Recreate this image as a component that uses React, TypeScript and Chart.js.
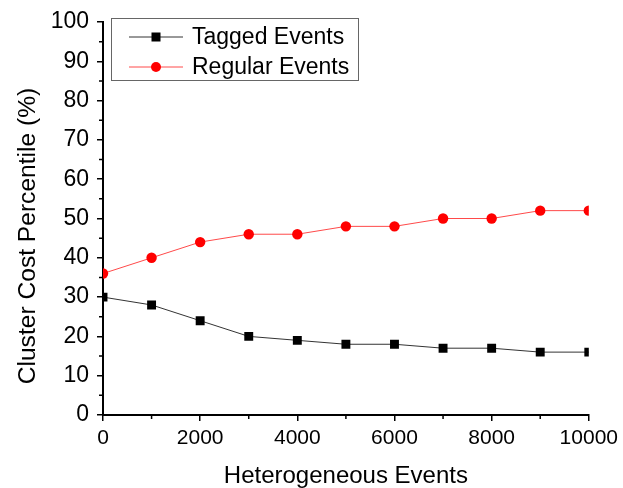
import React, { useEffect, useRef } from 'react';
import { Chart, registerables } from 'chart.js';

Chart.register(...registerables);

const xValues = [0, 1000, 2000, 3000, 4000, 5000, 6000, 7000, 8000, 9000, 10000];
const taggedEvents = [30, 28, 24, 20, 19, 18, 18, 17, 17, 16, 16];
const regularEvents = [36, 40, 44, 46, 46, 48, 48, 50, 50, 52, 52];
const xMinorTicks = [1000, 3000, 5000, 7000, 9000];
const yMinorTicks = [5, 15, 25, 35, 45, 55, 65, 75, 85, 95];
const seriesLabels = ['Tagged Events', 'Regular Events'];
const xTitle = 'Heterogeneous Events';
const yTitle = 'Cluster Cost Percentile (%)';

const FONT = "'Liberation Sans', Arial, sans-serif";

const minorTickPlugin = {
  id: 'minorTicks',
  afterDraw(chart: any) {
    const ctx = chart.ctx;
    const xs = chart.scales.x;
    const ys = chart.scales.y;
    ctx.save();
    ctx.strokeStyle = '#000';
    ctx.lineWidth = 1.5;
    ctx.beginPath();
    xMinorTicks.forEach((v) => {
      const px = xs.getPixelForValue(v);
      ctx.moveTo(px, ys.bottom);
      ctx.lineTo(px, ys.bottom + 4);
    });
    yMinorTicks.forEach((v) => {
      const py = ys.getPixelForValue(v);
      ctx.moveTo(xs.left, py);
      ctx.lineTo(xs.left - 4, py);
    });
    ctx.stroke();
    // y axis title
    ctx.fillStyle = '#000';
    ctx.font = `24.6px ${FONT}`;
    ctx.textAlign = 'center';
    ctx.textBaseline = 'alphabetic';
    ctx.translate(35, 236);
    ctx.rotate(-Math.PI / 2);
    ctx.fillText(yTitle, 0, 0);
    ctx.restore();
  },
};

const legendPlugin = {
  id: 'insideLegend',
  afterDraw(chart: any) {
    const ctx = chart.ctx;
    const area = chart.chartArea;
    const left = area.left + 8;
    const top = area.top - 4;
    const w = 247;
    const h = 62;
    ctx.save();
    ctx.fillStyle = '#fff';
    ctx.fillRect(left, top, w, h);
    ctx.strokeStyle = '#666';
    ctx.lineWidth = 1;
    ctx.strokeRect(left + 0.5, top + 0.5, w, h);
    chart.data.datasets.forEach((ds: any, i: number) => {
      const cy = top + 19 + i * 30;
      ctx.strokeStyle = ds.borderColor;
      ctx.lineWidth = 1;
      ctx.beginPath();
      ctx.moveTo(left + 18, cy);
      ctx.lineTo(left + 72, cy);
      ctx.stroke();
      ctx.fillStyle = ds.pointBackgroundColor;
      const mx = left + 45;
      if (ds.pointStyle === 'rect') {
        ctx.fillRect(mx - 4.5, cy - 4.5, 9, 9);
      } else {
        ctx.beginPath();
        ctx.arc(mx, cy, 5, 0, Math.PI * 2);
        ctx.fill();
      }
      ctx.fillStyle = '#000';
      ctx.font = `23px ${FONT}`;
      ctx.textBaseline = 'middle';
      ctx.textAlign = 'left';
      ctx.fillText(ds.label, left + 81, cy + 1);
    });
    ctx.restore();
  },
};

export default function App() {
  const ref = useRef<HTMLCanvasElement | null>(null);

  useEffect(() => {
    document.body.style.margin = '0';
    const canvas = ref.current;
    if (!canvas) return;
    const chart = new Chart(canvas, {
      type: 'line',
      data: {
        datasets: [
          {
            label: seriesLabels[0],
            data: xValues.map((x, i) => ({ x, y: taggedEvents[i] })),
            borderColor: '#333333',
            borderWidth: 1,
            backgroundColor: '#000',
            pointBackgroundColor: '#000',
            pointBorderColor: '#000',
            pointBorderWidth: 0,
            pointStyle: 'rect',
            pointRadius: 6.3,
            clip: 0,
            tension: 0,
          },
          {
            label: seriesLabels[1],
            data: xValues.map((x, i) => ({ x, y: regularEvents[i] })),
            borderColor: '#ff4a4a',
            borderWidth: 1,
            backgroundColor: '#ff0000',
            pointBackgroundColor: '#ff0000',
            pointBorderColor: '#ff0000',
            pointBorderWidth: 0,
            pointStyle: 'circle',
            pointRadius: 5.2,
            clip: 0,
            tension: 0,
          },
        ],
      },
      options: {
        animation: false,
        responsive: false,
        devicePixelRatio: 1,
        layout: { padding: { top: 22, right: 31, left: 0, bottom: 0 } },
        plugins: {
          legend: { display: false },
          tooltip: { enabled: false },
        },
        scales: {
          x: {
            type: 'linear',
            min: 0,
            max: 10000,
            ticks: {
              stepSize: 2000,
              color: '#000',
              font: { family: FONT, size: 21 },
              padding: 5,
              maxRotation: 0,
              callback: (v: any) => String(v),
            },
            grid: {
              display: true,
              drawOnChartArea: false,
              drawTicks: true,
              tickLength: 6,
              color: '#000',
              lineWidth: 1.5,
            },
            border: { display: true, color: '#000', width: 2 },
            title: {
              display: true,
              text: xTitle,
              color: '#000',
              font: { family: FONT, size: 24, lineHeight: 1.0 },
              padding: { top: 0, bottom: 0 },
            },
            afterFit: (s: any) => {
              s.height = 73;
            },
          },
          y: {
            type: 'linear',
            min: 0,
            max: 100,
            ticks: {
              stepSize: 10,
              color: '#000',
              font: { family: FONT, size: 23 },
              padding: 8,
            },
            grid: {
              display: true,
              drawOnChartArea: false,
              drawTicks: true,
              tickLength: 6,
              color: '#000',
              lineWidth: 1.5,
            },
            border: { display: true, color: '#000', width: 2 },
            title: { display: false },
            afterFit: (s: any) => {
              s.width = 103;
            },
          },
        },
      },
      plugins: [minorTickPlugin, legendPlugin],
    });
    return () => chart.destroy();
  }, []);

  return (
    <div style={{ width: 623, height: 488, background: '#fff' }}>
      <canvas ref={ref} width={623} height={488} style={{ display: 'block' }} />
    </div>
  );
}
